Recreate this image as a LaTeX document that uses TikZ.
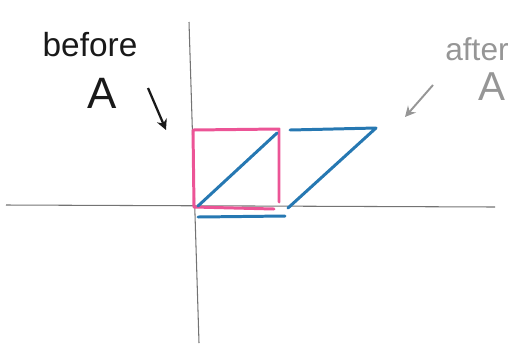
\documentclass[tikz,border=0pt]{standalone}
\usepackage{fontspec}
\setmainfont{Liberation Sans}
\usetikzlibrary{arrows.meta, positioning, calc}

\definecolor{penpink}{RGB}{236,84,150}
\definecolor{penblue}{RGB}{38,120,178}
\definecolor{pengray}{RGB}{150,150,150}

\begin{document}
\begin{tikzpicture}[
        x=0.02cm, y=-0.02cm,
        axis/.style={draw=black!55, line width=0.6pt},
        before/.style={draw=penpink, line width=1.7pt, line join=round, line cap=round},
        after/.style={draw=penblue, line width=1.7pt, line join=round, line cap=round},
        hand/.style={inner sep=0pt, text=black!90},
        handgray/.style={inner sep=0pt, text=pengray},
        ptr/.style={-{Stealth[length=6pt, width=6pt]}, line width=1.3pt, draw=black!90},
        ptrgray/.style={-{Stealth[length=6pt, width=6pt]}, line width=1.1pt, draw=pengray}
    ]
        \useasboundingbox (0,0) rectangle (523,349);
        % axes
        \coordinate (xl) at (6,205);
        \coordinate (xr) at (495,207);
        \coordinate (yt) at (189,22);
        \coordinate (yb) at (199,343);
        \draw[axis] (xl) -- (xr);
        \draw[axis] (yt) -- (yb);
        % square before A
        \coordinate (sqbl) at (194,207);
        \coordinate (sqtl) at (193,130);
        \coordinate (sqtr) at (279,129);
        \coordinate (sqbr) at (279,202);
        \coordinate (sqbe) at (274,209);
        \draw[before] (sqbl) -- (sqtl) -- (sqtr) -- (sqbr);
        \draw[before] (sqbl) -- (sqbe);
        % sheared square after A
        \coordinate (diag0) at (198,206);
        \coordinate (diag1) at (277,133);
        \coordinate (top0) at (290,130);
        \coordinate (top1) at (376,128);
        \coordinate (side0) at (288,208);
        \coordinate (bot0) at (198,217);
        \coordinate (bot1) at (285,216);
        \draw[after] (diag0) -- (diag1);
        \draw[after] (top0) -- (top1) -- (side0);
        \draw[after] (bot0) -- (bot1);
        % labels
        \node[hand, font=\fontsize{19}{22}\selectfont] (beforetxt) at (90,45) {before};
        \node[hand, font=\fontsize{25}{30}\selectfont] (beforeA) at (102,93) {A};
        \node[handgray, font=\fontsize{18}{21}\selectfont] (aftertxt) at (477,49) {after};
        \node[handgray, font=\fontsize{23}{28}\selectfont] (afterA) at (492,87) {A};
        \coordinate (p0) at (148,88);
        \coordinate (p1) at (166,130);
        \coordinate (q0) at (433,85);
        \coordinate (q1) at (405,117);
        \draw[ptr] (p0) -- (p1);
        \draw[ptrgray] (q0) -- (q1);
    \end{tikzpicture}
\end{document}
